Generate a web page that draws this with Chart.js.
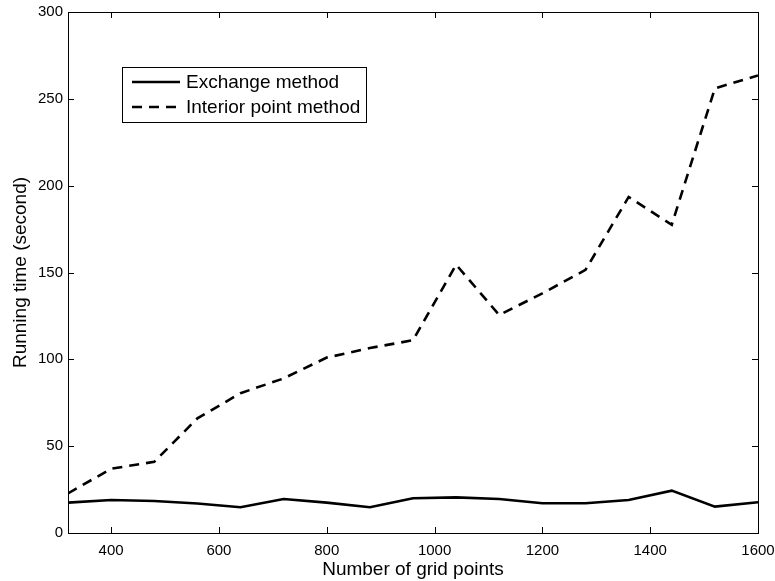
<!DOCTYPE html>
<html lang="en">
<head>
<meta charset="UTF-8" />
<title>Running time</title>
<script src="https://cdn.jsdelivr.net/npm/chart.js@4.4.1/dist/chart.umd.min.js"></script>
<style>
  body { margin: 0; background: #fff; }
  #wrap { width: 775px; height: 581px; }
</style>
</head>
<body>
<div id="wrap"><canvas id="chart" width="775" height="581"></canvas></div>
<script>

const gridPoints = [320, 400, 480, 560, 640, 720, 800, 880, 960, 1040, 1120, 1200, 1280, 1360, 1440, 1520, 1600];
const exchangeTime = [17.5, 19, 18.4, 17, 14.8, 19.6, 17.5, 14.8, 20, 20.5, 19.6, 17.1, 17.1, 19, 24.4, 15.2, 17.7];
const interiorTime = [22.8, 37, 41, 66, 80.5, 89, 101, 106.5, 111, 154.5, 125.5, 138, 151.5, 193.5, 177.5, 256, 263.5];
const xTicks = [400, 600, 800, 1000, 1200, 1400, 1600];
const yTicks = [0, 50, 100, 150, 200, 250, 300];

const FONT = "'Liberation Sans', Arial, Helvetica, sans-serif";

function pairs(xs, ys) {
    return xs.map((x, i) => ({ x: x, y: ys[i] }));
}

// box round the plot with MATLAB style inward ticks
const frame = {
    id: 'frame',
    afterDatasetsDraw(chart) {
        const { ctx, chartArea: a, scales } = chart;
        const len = 6;
        ctx.save();
        ctx.strokeStyle = '#000';
        ctx.lineWidth = 1;
        ctx.beginPath();
        xTicks.forEach(v => {
            const px = Math.round(scales.x.getPixelForValue(v)) + 0.5;
            ctx.moveTo(px, a.bottom); ctx.lineTo(px, a.bottom - len);
            ctx.moveTo(px, a.top); ctx.lineTo(px, a.top + len);
        });
        yTicks.forEach(v => {
            const py = Math.round(scales.y.getPixelForValue(v)) + 0.5;
            ctx.moveTo(a.left, py); ctx.lineTo(a.left + len, py);
            ctx.moveTo(a.right, py); ctx.lineTo(a.right - len, py);
        });
        ctx.stroke();
        ctx.strokeRect(Math.round(a.left) + 0.5, Math.round(a.top) + 0.5,
            Math.round(a.right - a.left), Math.round(a.bottom - a.top));
        ctx.restore();
    }
};

// legend box drawn inside the axes
const boxLegend = {
    id: 'boxLegend',
    afterDraw(chart) {
        const ctx = chart.ctx;
        const x0 = 122, y0 = 67, w = 244, h = 55;
        ctx.save();
        ctx.fillStyle = '#fff';
        ctx.fillRect(x0, y0, w, h);
        ctx.strokeStyle = '#000';
        ctx.lineWidth = 1;
        ctx.strokeRect(x0 + 0.5, y0 + 0.5, w, h);
        ctx.font = '19px ' + FONT;
        ctx.textBaseline = 'middle';
        chart.data.datasets.forEach((ds, i) => {
            const y = y0 + 15 + i * 25;
            ctx.beginPath();
            ctx.setLineDash(ds.borderDash || []);
            ctx.lineWidth = ds.borderWidth;
            ctx.strokeStyle = ds.borderColor;
            ctx.moveTo(132, y);
            ctx.lineTo(180, y);
            ctx.stroke();
            ctx.setLineDash([]);
            ctx.fillStyle = '#000';
            ctx.fillText(ds.label, 186, y + 1);
        });
        ctx.restore();
    }
};

new Chart(document.getElementById('chart'), {
    type: 'line',
    data: {
        datasets: [
            {
                label: 'Exchange method',
                data: pairs(gridPoints, exchangeTime),
                borderColor: '#000',
                borderWidth: 2.6,
                pointRadius: 0,
                tension: 0
            },
            {
                label: 'Interior point method',
                data: pairs(gridPoints, interiorTime),
                borderColor: '#000',
                borderWidth: 2.6,
                borderDash: [10, 7],
                pointRadius: 0,
                tension: 0
            }
        ]
    },
    options: {
        responsive: false,
        animation: false,
        layout: { padding: { left: 0, right: 17, top: 12, bottom: 0 } },
        plugins: {
            legend: { display: false },
            tooltip: { enabled: false }
        },
        scales: {
            x: {
                type: 'linear',
                min: 320,
                max: 1600,
                afterBuildTicks: s => { s.ticks = xTicks.map(v => ({ value: v })); },
                afterFit: s => { s.height = 48; s.paddingLeft = 0; s.paddingRight = 0; },
                grid: { display: false, drawTicks: false },
                border: { display: false },
                ticks: {
                    color: '#000',
                    font: { family: FONT, size: 15 },
                    padding: 9,
                    maxRotation: 0,
                    callback: v => String(v)
                },
                title: {
                    display: true,
                    text: 'Number of grid points',
                    color: '#000',
                    font: { family: FONT, size: 19 },
                    padding: { top: 2, bottom: 0 }
                }
            },
            y: {
                min: 0,
                max: 300,
                afterBuildTicks: s => { s.ticks = yTicks.map(v => ({ value: v })); },
                afterFit: s => { s.width = 68; s.paddingTop = 0; s.paddingBottom = 0; },
                grid: { display: false, drawTicks: false },
                border: { display: false },
                ticks: {
                    color: '#000',
                    font: { family: FONT, size: 15 },
                    padding: 5,
                    callback: v => String(v)
                },
                title: {
                    display: true,
                    text: 'Running time (second)',
                    color: '#000',
                    font: { family: FONT, size: 19 },
                    padding: { top: 9, bottom: 0 }
                }
            }
        }
    },
    plugins: [frame, boxLegend]
});
</script>
</body>
</html>
